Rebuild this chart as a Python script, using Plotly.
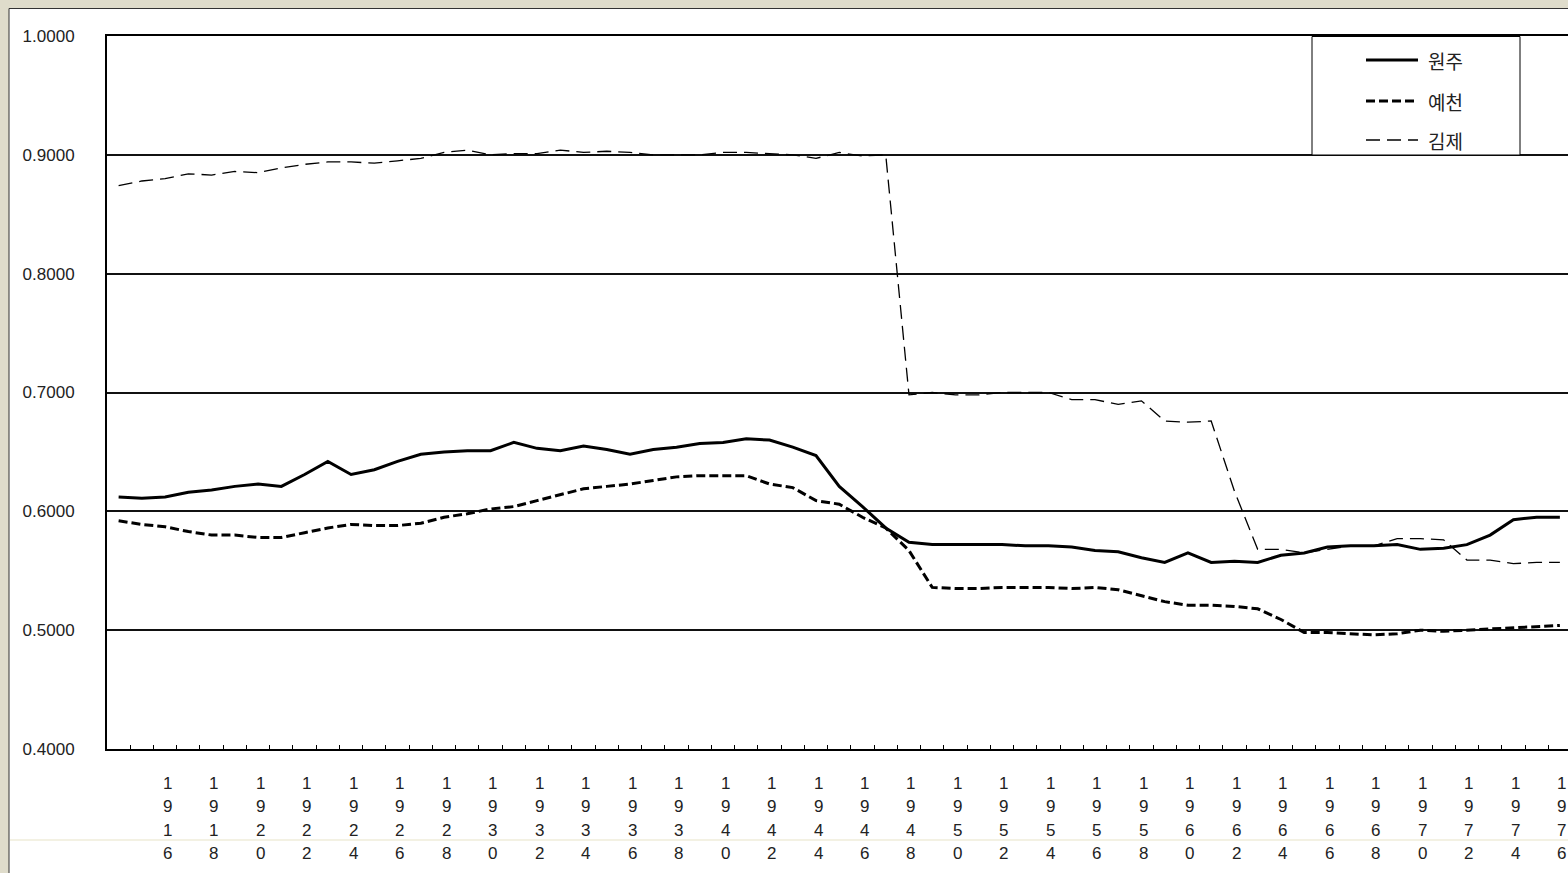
import plotly.graph_objects as go

# Annual series, 1914-1976
years = list(range(1914, 1977))

wonju = [0.612, 0.611, 0.612, 0.616, 0.618, 0.621, 0.623, 0.621, 0.631, 0.642,
         0.631, 0.635, 0.642, 0.648, 0.650, 0.651, 0.651, 0.658, 0.653, 0.651,
         0.655, 0.652, 0.648, 0.652, 0.654, 0.657, 0.658, 0.661, 0.660, 0.654,
         0.647, 0.621, 0.604, 0.586, 0.574, 0.572, 0.572, 0.572, 0.572, 0.571,
         0.571, 0.570, 0.567, 0.566, 0.561, 0.557, 0.565, 0.557, 0.558, 0.557,
         0.563, 0.565, 0.570, 0.571, 0.571, 0.572, 0.568, 0.569, 0.572, 0.580,
         0.593, 0.595, 0.595]

yecheon = [0.592, 0.589, 0.587, 0.583, 0.580, 0.580, 0.578, 0.578, 0.582, 0.586,
           0.589, 0.588, 0.588, 0.590, 0.595, 0.598, 0.602, 0.604, 0.609, 0.614,
           0.619, 0.621, 0.623, 0.626, 0.629, 0.630, 0.630, 0.630, 0.623, 0.620,
           0.609, 0.606, 0.595, 0.586, 0.567, 0.536, 0.535, 0.535, 0.536, 0.536,
           0.536, 0.535, 0.536, 0.534, 0.529, 0.524, 0.521, 0.521, 0.520, 0.518,
           0.509, 0.498, 0.498, 0.497, 0.496, 0.497, 0.500, 0.499, 0.500, 0.501,
           0.502, 0.503, 0.504]

gimje = [0.874, 0.878, 0.880, 0.884, 0.883, 0.886, 0.885, 0.889, 0.892, 0.894,
         0.894, 0.893, 0.895, 0.897, 0.902, 0.904, 0.900, 0.901, 0.901, 0.904,
         0.902, 0.903, 0.902, 0.900, 0.900, 0.900, 0.902, 0.902, 0.901, 0.900,
         0.897, 0.902, 0.899, 0.900, 0.698, 0.700, 0.698, 0.698, 0.700, 0.700,
         0.700, 0.694, 0.694, 0.690, 0.693, 0.676, 0.675, 0.676, 0.617, 0.568,
         0.568, 0.565, 0.568, 0.571, 0.571, 0.577, 0.577, 0.576, 0.559, 0.559,
         0.556, 0.557, 0.557]

series_names = ["원주", "예천", "김제"]
label_years = list(range(1916, 1977, 2))
y_ticks = [0.4, 0.5, 0.6, 0.7, 0.8, 0.9, 1.0]
y_ticktext = ["0.4000", "0.5000", "0.6000", "0.7000", "0.8000", "0.9000", "1.0000"]

W, H = 1568, 873
PL, PR, PT, PB = 107, 1568, 36, 749   # plot area in pixels


def px(x):
    return (x - PL) / (PR - PL)


def py(y):
    return (PB - y) / (PB - PT)


NUM_FONT = "Liberation Sans, Arial, sans-serif"
KR_FONT = "Noto Sans CJK KR, sans-serif"

styles = [
    dict(color="black", width=3, dash="solid"),
    dict(color="black", width=3, dash="9px,4px"),
    dict(color="black", width=1.3, dash="14px,7px"),
]

fig = go.Figure()
for name, vals, st in zip(series_names, [wonju, yecheon, gimje], styles):
    fig.add_trace(go.Scatter(x=years, y=vals, mode="lines", name=name,
                             line=st, showlegend=False))

x_left = years[0] - 0.5
x_right = x_left + (PR - PL) / 23.246

fig.update_layout(
    width=W, height=H,
    margin=dict(l=PL, r=W - PR, t=PT, b=H - PB),
    paper_bgcolor="#dfdccb",
    plot_bgcolor="white",
    font=dict(family=NUM_FONT, size=17, color="#222"),
    xaxis=dict(
        range=[x_left, x_right],
        tickvals=[y + 0.5 for y in years[:-1]],
        showticklabels=False,
        ticks="inside", ticklen=4, tickwidth=1, tickcolor="black",
        showgrid=False, zeroline=False,
        showline=True, linecolor="black", linewidth=2, mirror=True,
    ),
    yaxis=dict(
        range=[0.4, 1.0],
        tickvals=y_ticks, ticktext=y_ticktext,
        ticks="", ticklabelstandoff=27,
        tickfont=dict(family=NUM_FONT, size=17, color="#222"),
        showgrid=True, gridcolor="#111", gridwidth=1.5,
        zeroline=False,
        showline=True, linecolor="black", linewidth=2,
    ),
)

shapes = []
# white chart area with thin frame
shapes.append(dict(type="rect", xref="paper", yref="paper", layer="below",
                   x0=px(9), x1=px(W + 20), y0=py(H + 20), y1=py(8.5),
                   fillcolor="white", line=dict(color="#333", width=1)))
# faint rule near the bottom
shapes.append(dict(type="line", xref="paper", yref="paper", layer="below",
                   x0=px(10), x1=px(W), y0=py(840), y1=py(840),
                   line=dict(color="#efedda", width=1.5)))
# legend box
shapes.append(dict(type="rect", xref="paper", yref="paper", layer="above",
                   x0=px(1312), x1=px(1520), y0=py(155), y1=py(36.5),
                   fillcolor="white", line=dict(color="black", width=1)))

annotations = []
legend_rows = [60, 101, 140]
for name, st, ry in zip(series_names, styles, legend_rows):
    shapes.append(dict(type="line", xref="paper", yref="paper", layer="above",
                       x0=px(1366), x1=px(1418), y0=py(ry), y1=py(ry),
                       line=st))
    annotations.append(dict(text=name, xref="paper", yref="paper",
                            x=px(1426), y=py(ry), xanchor="left", yanchor="middle",
                            showarrow=False,
                            font=dict(family=KR_FONT, size=19, color="#222")))

# stacked year labels, one digit per row
digit_rows = [783, 806.5, 830, 853]
for yr in label_years:
    for d, ry in zip(str(yr), digit_rows):
        annotations.append(dict(text=d, xref="x", yref="paper", x=yr, y=py(ry),
                                xanchor="center", yanchor="middle", xshift=2,
                                showarrow=False,
                                font=dict(family=NUM_FONT, size=17, color="#222")))

fig.update_layout(shapes=shapes, annotations=annotations)
fig.write_html("out.html")
